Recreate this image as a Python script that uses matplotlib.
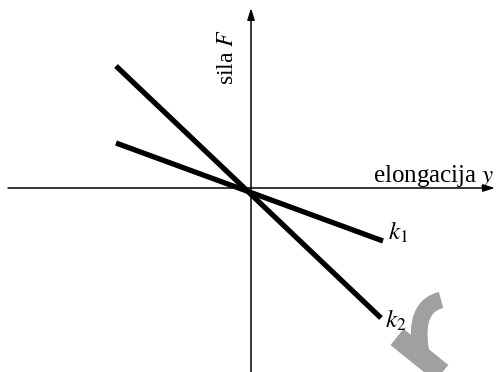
import matplotlib
matplotlib.use("Agg")
import matplotlib.pyplot as plt
from matplotlib.transforms import Affine2D
from matplotlib.path import Path
from matplotlib.patches import PathPatch

plt.rcParams["font.family"] = ["Liberation Serif", "DejaVu Serif"]
plt.rcParams["mathtext.fontset"] = "stix"

W, H = 503, 372
DPI = 100

# Force-elongation lines (F = -k y), endpoints in plot units
k_labels = ["$k_1$", "$k_2$"]
k1_x = [-135, 132]
k1_y = [45, -53]
k2_x = [-135, 130]
k2_y = [122, -130]

x_label = "elongacija $y$"
y_label = "sila $F$"

fig = plt.figure(figsize=(W / DPI, H / DPI), dpi=DPI)
ax = fig.add_axes([0, 0, 1, 1])
ax.set_xlim(-251, 252)
ax.set_ylim(-184, 188)
ax.axis("off")

# coordinate axes with arrowheads
arrow = dict(arrowstyle="-|>,head_length=0.7,head_width=0.22", lw=1.1,
             color="black", shrinkA=0, shrinkB=0)
ax.annotate("", xy=(244, 0), xytext=(-243, 0), arrowprops=arrow)
ax.annotate("", xy=(0, 180), xytext=(0, -190), arrowprops=arrow)

# spring lines
ax.plot(k1_x, k1_y, color="black", lw=3.8, solid_capstyle="butt")
ax.plot(k2_x, k2_y, color="black", lw=3.8, solid_capstyle="butt")

# labels
ax.text(122, 6, x_label, fontsize=18, ha="left", va="baseline")
ax.text(-23, 131, y_label, fontsize=17, rotation=90, ha="center", va="center")
ax.text(137, -52, k_labels[0], fontsize=18, ha="left", va="baseline")
ax.text(134, -140, k_labels[1], fontsize=18, ha="left", va="baseline")

# grey hook emblem in the lower right corner
px = Affine2D().scale(1, -1).translate(0, H)
band = Path([(397, 337), (448, 378)], [Path.MOVETO, Path.LINETO])
hook = Path([(421, 352), (415, 320), (424, 304), (441, 300)],
            [Path.MOVETO, Path.CURVE4, Path.CURVE4, Path.CURVE4])
for p, w in [(band, 15.0), (hook, 12.0)]:
    fig.add_artist(PathPatch(p, facecolor="none", edgecolor="#a0a0a0",
                             lw=w, capstyle="butt", transform=px, zorder=0))

fig.savefig("out.png", dpi=DPI)
